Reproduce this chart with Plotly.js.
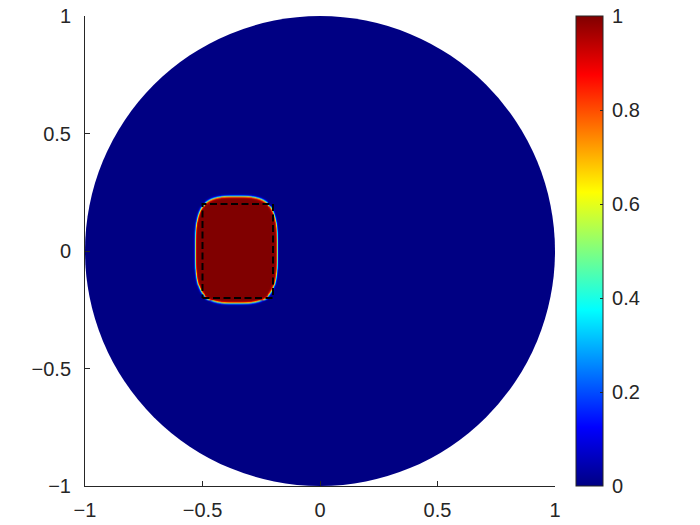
<!DOCTYPE html>
<html>
<head>
<meta charset="utf-8">
<script src="https://cdn.plot.ly/plotly-3.0.1.min.js"></script>
<style>html,body{margin:0;padding:0;background:#fff;}#chart{width:700px;height:525px;}</style>
</head>
<body>
<div id="chart"></div>
<script>
// ---- values ----
const domainCenter = [0, 0];          // disk centre
const domainRadius = 1;               // disk radius
const backgroundValue = 0;            // field value in the disk
const inclusionValue = 1;             // field value in the inclusion
const inclusionCenter = [-0.358, 0.006];
const inclusionHalfWidths = [0.174, 0.228];
const inclusionExponent = 3.5;        // rounded-square (superellipse) shape
const interfaceWidth = 0.0035;        // thin diffuse edge of the inclusion
const sampleX = [-0.62, -0.10];       // window sampled around the inclusion
const sampleY = [-0.32, 0.32];
const sampleStep = 0.004;

const rectX = [-0.5, -0.2, -0.2, -0.5, -0.5];
const rectY = [-0.2, -0.2, 0.2, 0.2, -0.2];

const axisTicks = [-1, -0.5, 0, 0.5, 1];
const axisTickText = ['\u22121', '\u22120.5', '0', '0.5', '1'];
const cbTicks = [0, 0.2, 0.4, 0.6, 0.8, 1];
const cbTickText = ['0', '0.2', '0.4', '0.6', '0.8', '1'];

// MATLAB jet colormap
const jet = [
  [0, 'rgb(0,0,131)'],
  [0.125, 'rgb(0,0,255)'],
  [0.375, 'rgb(0,255,255)'],
  [0.625, 'rgb(255,255,0)'],
  [0.875, 'rgb(255,0,0)'],
  [1, 'rgb(128,0,0)']
];

// ---- sampled field around the inclusion (rest of the disk = background) ----
function axisSamples(range) {
  const n = Math.round((range[1] - range[0]) / sampleStep) + 1;
  const out = [];
  for (let i = 0; i < n; i++) out.push(range[0] + (range[1] - range[0]) * i / (n - 1));
  return out;
}
const gx = axisSamples(sampleX), gy = axisSamples(sampleY);
const hMin = Math.min(inclusionHalfWidths[0], inclusionHalfWidths[1]);
const z = gy.map(y => gx.map(x => {
  const s = Math.pow(Math.abs((x - inclusionCenter[0]) / inclusionHalfWidths[0]), inclusionExponent) +
            Math.pow(Math.abs((y - inclusionCenter[1]) / inclusionHalfWidths[1]), inclusionExponent);
  const d = (Math.pow(s, 1 / inclusionExponent) - 1) * hMin;   // approx. signed distance
  const t = 0.5 * (1 - Math.tanh(d / interfaceWidth));
  return backgroundValue + (inclusionValue - backgroundValue) * t;
}));

const textColor = '#262626';
const font = {family: 'Liberation Sans, Arial, sans-serif', size: 20, color: textColor};

const traces = [
  {
    type: 'heatmap', x: gx, y: gy, z: z,
    colorscale: jet, zmin: 0, zmax: 1, zsmooth: 'best',
    hoverinfo: 'skip',
    colorbar: {
      x: 1.0447, xanchor: 'left', xref: 'paper',
      y: 0.5, yanchor: 'middle', len: 1, lenmode: 'fraction',
      thickness: 27, thicknessmode: 'pixels',
      outlinewidth: 1, outlinecolor: textColor,
      ticks: 'inside', ticklen: 3, tickwidth: 1, tickcolor: textColor,
      tickvals: cbTicks, ticktext: cbTickText.map(t => '\u2009' + t),
      tickfont: font, xpad: 0, ypad: 0, borderwidth: 0
    }
  },
  {
    type: 'scatter', mode: 'lines', x: rectX, y: rectY,
    line: {color: '#000', width: 2, dash: '7px,3.5px'},
    hoverinfo: 'skip', showlegend: false
  }
];

const axisCommon = {
  range: [-1, 1], tickvals: axisTicks, ticktext: axisTickText,
  showgrid: false, zeroline: false,
  showline: true, linecolor: textColor, linewidth: 1, mirror: false,
  ticks: 'inside', ticklen: 5, tickwidth: 1, tickcolor: textColor,
  tickfont: font
};

const layout = {
  width: 700, height: 525,
  margin: {l: 85, r: 145, t: 16, b: 39},
  paper_bgcolor: '#fff', plot_bgcolor: '#fff',
  showlegend: false,
  xaxis: Object.assign({}, axisCommon, {ticklabelstandoff: 6}),
  yaxis: Object.assign({}, axisCommon, {ticklabelstandoff: 9}),
  shapes: [{
    type: 'circle', xref: 'x', yref: 'y', layer: 'below',
    x0: domainCenter[0] - domainRadius, x1: domainCenter[0] + domainRadius,
    y0: domainCenter[1] - domainRadius, y1: domainCenter[1] + domainRadius,
    fillcolor: jet[0][1], line: {width: 0}
  }],
  font: font
};

Plotly.newPlot('chart', traces, layout, {displayModeBar: false, staticPlot: true});
</script>
</body>
</html>
